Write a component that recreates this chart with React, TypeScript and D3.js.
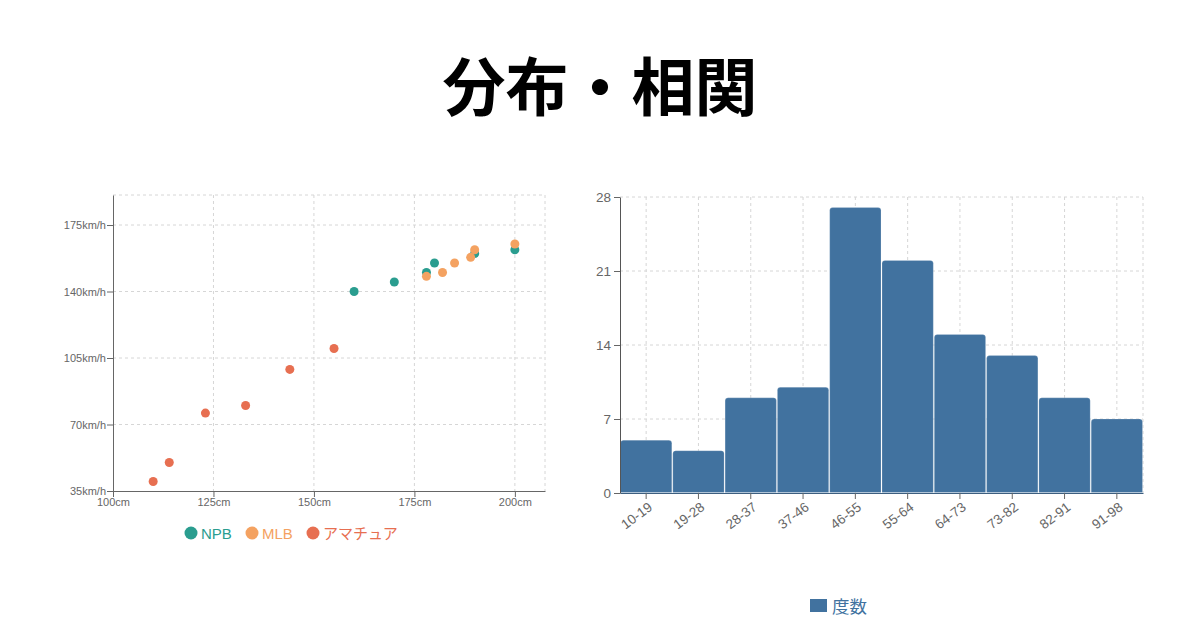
import { useEffect, useRef } from 'react';
import * as d3 from 'd3';

// scatter: height (cm) vs ball speed (km/h)
const npbHeight = [160, 170, 178, 180, 190, 200];
const npbSpeed = [140, 145, 150, 155, 160, 162];
const mlbHeight = [178, 182, 185, 189, 190, 200];
const mlbSpeed = [148, 150, 155, 158, 162, 165];
const amateurHeight = [110, 114, 123, 133, 144, 155];
const amateurSpeed = [40, 50, 76, 80, 99, 110];
const xTicks = [100, 125, 150, 175, 200];
const yTicks = [35, 70, 105, 140, 175];

// histogram
const bins = ['10-19', '19-28', '28-37', '37-46', '46-55', '55-64', '64-73', '73-82', '82-91', '91-98'];
const counts = [5, 4, 9, 10, 27, 22, 15, 13, 9, 7];
const countTicks = [0, 7, 14, 21, 28];

const FONT = '"Liberation Sans", Arial, "Noto Sans CJK JP", sans-serif';
const JP = '"Noto Sans CJK JP", sans-serif';

function App() {
  const ref = useRef(null);

  const svgWidth = 1200;
  const svgHeight = 630;

  useEffect(() => {
    const svg = d3.select(ref.current);
    svg.selectAll('*').remove();

    // Title
    svg
      .append('text')
      .attr('x', 600)
      .attr('y', 82)
      .attr('text-anchor', 'middle')
      .attr('dominant-baseline', 'central')
      .attr('font-family', JP)
      .attr('font-weight', 700)
      .attr('font-size', 63)
      .attr('fill', '#000')
      .text('分布・相関');

    drawScatter(svg);
    drawHistogram(svg);
  }, []);

  function drawScatter(svg: d3.Selection<any, unknown, null, undefined>) {
    const left = 113;
    const right = 545;
    const top = 195;
    const bottom = 491;

    const x = d3.scaleLinear().domain([100, 207.5]).range([left, right]);
    const y = d3.scaleLinear().domain([35, 190.8]).range([bottom, top]);

    const g = svg.append('g');

    // Grid
    const grid = g.append('g').attr('stroke', '#d6d6d6').attr('stroke-dasharray', '3,3');
    grid
      .selectAll('line.v')
      .data([...xTicks.slice(1), 207.5])
      .join('line')
      .attr('x1', (d) => x(d))
      .attr('x2', (d) => x(d))
      .attr('y1', top)
      .attr('y2', bottom);
    grid
      .selectAll('line.h')
      .data([...yTicks.slice(1), 190.8])
      .join('line')
      .attr('x1', left)
      .attr('x2', right)
      .attr('y1', (d) => y(d))
      .attr('y2', (d) => y(d));

    // Axes
    const xAxis = g
      .append('g')
      .attr('transform', `translate(0, ${bottom})`)
      .call(d3.axisBottom(x).tickValues(xTicks).tickSizeOuter(0).tickFormat((d) => `${d}cm`));
    const yAxis = g
      .append('g')
      .attr('transform', `translate(${left}, 0)`)
      .call(d3.axisLeft(y).tickValues(yTicks).tickSizeOuter(0).tickFormat((d) => `${d}km/h`));
    [xAxis, yAxis].forEach((a) => {
      a.select('.domain').attr('stroke', '#666');
      a.selectAll('.tick line').attr('stroke', '#666');
      a.selectAll('.tick text').attr('fill', '#666').attr('font-size', 11).attr('font-family', FONT);
    });
    xAxis.selectAll('.tick text').attr('dy', '0.9em').attr('y', 5);
    yAxis.selectAll('.tick text').attr('x', -7);

    // Points
    const series = [
      { hs: npbHeight, ss: npbSpeed, color: '#2a9d8f' },
      { hs: mlbHeight, ss: mlbSpeed, color: '#f4a261' },
      { hs: amateurHeight, ss: amateurSpeed, color: '#e76f51' },
    ];
    series.forEach((s) => {
      g.append('g')
        .attr('fill', s.color)
        .selectAll('circle')
        .data(s.hs.map((h, i) => [h, s.ss[i]]))
        .join('circle')
        .attr('cx', (d) => x(d[0]))
        .attr('cy', (d) => y(d[1]))
        .attr('r', 4.5);
    });

    // Legend
    const legend = [
      { name: 'NPB', color: '#2a9d8f', cx: 191 },
      { name: 'MLB', color: '#f4a261', cx: 252 },
      { name: 'アマチュア', color: '#e76f51', cx: 313 },
    ];
    const lg = g.append('g');
    legend.forEach((l) => {
      lg.append('circle').attr('cx', l.cx).attr('cy', 533).attr('r', 6.5).attr('fill', l.color);
      lg.append('text')
        .attr('x', l.cx + 10)
        .attr('y', 533)
        .attr('dominant-baseline', 'central')
        .attr('font-family', FONT)
        .attr('font-size', 15)
        .attr('fill', l.color)
        .text(l.name);
    });
  }

  function drawHistogram(svg: d3.Selection<any, unknown, null, undefined>) {
    const left = 620;
    const right = 1143;
    const top = 197;
    const bottom = 493;

    const x = d3.scaleBand().domain(bins).range([left, right]);
    const y = d3.scaleLinear().domain([0, 28]).range([bottom, top]);

    const g = svg.append('g');

    // Grid
    const grid = g.append('g').attr('stroke', '#d6d6d6').attr('stroke-dasharray', '3,3');
    grid
      .selectAll('line.v')
      .data(bins)
      .join('line')
      .attr('x1', (d) => (x(d) as number) + x.bandwidth() / 2)
      .attr('x2', (d) => (x(d) as number) + x.bandwidth() / 2)
      .attr('y1', top)
      .attr('y2', bottom);
    grid.append('line').attr('x1', right).attr('x2', right).attr('y1', top).attr('y2', bottom);
    grid
      .selectAll('line.h')
      .data(countTicks.slice(1))
      .join('line')
      .attr('x1', left)
      .attr('x2', right)
      .attr('y1', (d) => y(d))
      .attr('y2', (d) => y(d));

    // Bars with rounded top corners
    const r = 3;
    g.append('g')
      .selectAll('path')
      .data(counts)
      .join('path')
      .attr('fill', '#41729f')
      .attr('stroke', 'rgba(255,255,255,0.18)')
      .attr('stroke-width', 1)
      .attr('d', (d, i) => {
        const x0 = (x(bins[i]) as number) + 0.5;
        const x1 = x0 + x.bandwidth() - 1;
        const y0 = y(d);
        const yb = y(0) - 0.5;
        return `M${x0},${yb}V${y0 + r}Q${x0},${y0} ${x0 + r},${y0}H${x1 - r}Q${x1},${y0} ${x1},${y0 + r}V${yb}Z`;
      });

    // Axes
    const xAxis = g
      .append('g')
      .attr('transform', `translate(0, ${bottom})`)
      .call(d3.axisBottom(x).tickSizeOuter(0));
    const yAxis = g
      .append('g')
      .attr('transform', `translate(${left}, 0)`)
      .call(d3.axisLeft(y).tickValues(countTicks).tickSizeOuter(0));
    xAxis.select('.domain').attr('stroke', '#3d5f80');
    yAxis.select('.domain').attr('stroke', '#555');
    [xAxis, yAxis].forEach((a) => {
      a.selectAll('.tick line').attr('stroke', '#666');
      a.selectAll('.tick text').attr('fill', '#666').attr('font-size', 13.5).attr('font-family', FONT);
    });
    xAxis
      .selectAll('.tick text')
      .attr('text-anchor', 'end')
      .attr('dy', 0)
      .attr('y', 0)
      .attr('transform', 'translate(7, 16) rotate(-37)');

    // Legend
    g.append('rect').attr('x', 810).attr('y', 599).attr('width', 17).attr('height', 13).attr('fill', '#41729f');
    g.append('text')
      .attr('x', 832)
      .attr('y', 605)
      .attr('dominant-baseline', 'central')
      .attr('font-family', JP)
      .attr('font-size', 17.5)
      .attr('fill', '#41729f')
      .text('度数');
  }

  return (
    <svg
      ref={ref}
      width={svgWidth}
      height={svgHeight}
      style={{ position: 'absolute', left: 0, top: 0, background: '#fff' }}
    ></svg>
  );
}

export default App;
